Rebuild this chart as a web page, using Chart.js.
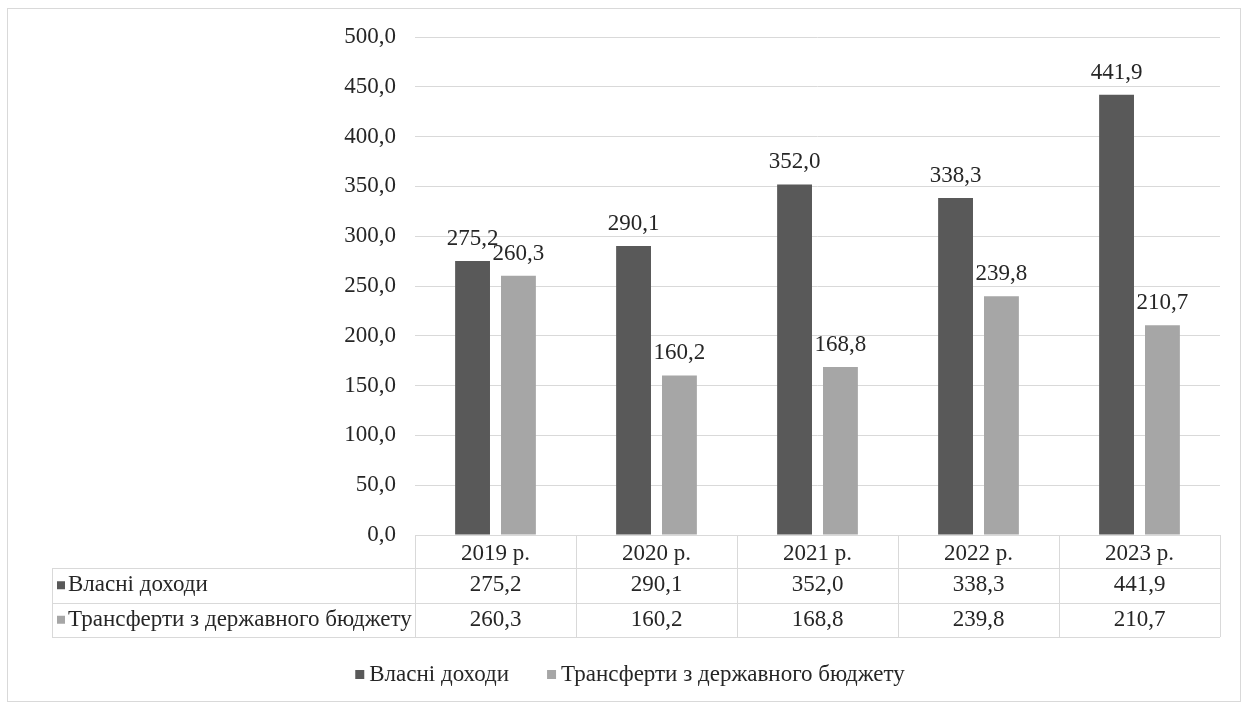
<!DOCTYPE html>
<html>
<head>
<meta charset="utf-8">
<script src="https://cdn.jsdelivr.net/npm/chart.js@4.4.1/dist/chart.umd.min.js"></script>
<style>
  html, body { margin: 0; padding: 0; background: #ffffff; }
  #wrap { position: relative; width: 1248px; height: 704px; }
  #frame { position: absolute; left: 7px; top: 8px; width: 1234px; height: 694px; border: 1px solid #d9d9d9; box-sizing: border-box; pointer-events: none; }
  canvas { position: absolute; left: 0; top: 0; }
</style>
</head>
<body>
<div id="wrap">
  <canvas id="c" width="1248" height="704"></canvas>
  <div id="frame"></div>
</div>
<script>
// Доходи місцевого бюджету, млн грн
const categories = ['2019 р.', '2020 р.', '2021 р.', '2022 р.', '2023 р.'];
const ownRevenue = [275.2, 290.1, 352.0, 338.3, 441.9];
const transfers = [260.3, 160.2, 168.8, 239.8, 210.7];
const seriesNames = ['Власні доходи', 'Трансферти з державного бюджету'];
const seriesColors = ['#595959', '#a6a6a6'];

const FONT = '"Liberation Serif", "Times New Roman", serif';
const FS = 23;
const TEXT = '#262626';
const LINE = '#d9d9d9';

const fmt = v => v.toFixed(1).replace('.', ',');

// Labels above each bar
const valueLabels = {
  id: 'valueLabels',
  afterDatasetsDraw(chart) {
    const ctx = chart.ctx;
    ctx.save();
    ctx.font = FS + 'px ' + FONT;
    ctx.fillStyle = TEXT;
    ctx.textAlign = 'center';
    ctx.textBaseline = 'middle';
    chart.data.datasets.forEach((ds, di) => {
      chart.getDatasetMeta(di).data.forEach((bar, i) => {
        ctx.fillText(fmt(ds.data[i]), bar.x, bar.y - 22);
      });
    });
    ctx.restore();
  }
};

// Data table under the category axis plus the bottom legend
const dataTable = {
  id: 'dataTable',
  afterDraw(chart) {
    const ctx = chart.ctx;
    const x = chart.scales.x;
    const area = chart.chartArea;
    const n = categories.length;
    const step = (area.right - area.left) / n;
    const top = area.bottom;
    const headBottom = x.bottom;
    const rowH = 34.5;
    const tableLeft = 52;
    const rows = [ownRevenue, transfers];
    const tableBottom = headBottom + rowH * rows.length;

    ctx.save();
    ctx.strokeStyle = LINE;
    ctx.lineWidth = 1;
    ctx.beginPath();
    // horizontal lines
    [headBottom, headBottom + rowH, tableBottom].forEach(y => {
      const yy = Math.round(y) + 0.5;
      ctx.moveTo(tableLeft, yy);
      ctx.lineTo(area.right, yy);
    });
    // vertical lines between categories
    for (let i = 0; i <= n; i++) {
      const xx = Math.round(area.left + step * i) + 0.5;
      ctx.moveTo(xx, top);
      ctx.lineTo(xx, tableBottom);
    }
    ctx.moveTo(tableLeft + 0.5, headBottom);
    ctx.lineTo(tableLeft + 0.5, tableBottom);
    ctx.stroke();

    ctx.font = FS + 'px ' + FONT;
    ctx.textBaseline = 'middle';
    rows.forEach((vals, r) => {
      const cy = headBottom + rowH * r + rowH / 2;
      ctx.fillStyle = seriesColors[r];
      ctx.fillRect(tableLeft + 5, cy - 4, 8, 8);
      ctx.fillStyle = TEXT;
      ctx.textAlign = 'left';
      ctx.fillText(seriesNames[r], tableLeft + 16, cy);
      ctx.textAlign = 'center';
      vals.forEach((v, i) => {
        ctx.fillText(fmt(v), x.getPixelForValue(i), cy);
      });
    });

    // legend
    const ly = 675;
    const box = 9, gapBox = 5, gapItem = 38;
    const widths = seriesNames.map(s => ctx.measureText(s).width);
    const total = widths.reduce((a, w) => a + box + gapBox + w, 0) + gapItem;
    let lx = 630 - total / 2;
    ctx.textAlign = 'left';
    seriesNames.forEach((s, i) => {
      ctx.fillStyle = seriesColors[i];
      ctx.fillRect(lx, ly - 5, box, box);
      ctx.fillStyle = TEXT;
      ctx.fillText(s, lx + box + gapBox, ly);
      lx += box + gapBox + widths[i] + gapItem;
    });
    ctx.restore();
  }
};

new Chart(document.getElementById('c'), {
  type: 'bar',
  data: {
    labels: categories,
    datasets: [
      { label: seriesNames[0], data: ownRevenue, backgroundColor: seriesColors[0] },
      { label: seriesNames[1], data: transfers, backgroundColor: seriesColors[1] }
    ]
  },
  options: {
    responsive: false,
    animation: false,
    devicePixelRatio: 1,
    datasets: { bar: { categoryPercentage: 0.57, barPercentage: 0.76 } },
    layout: { padding: { left: 0, right: 28, top: 37, bottom: 136 } },
    plugins: { legend: { display: false }, tooltip: { enabled: false } },
    scales: {
      x: {
        grid: { display: false },
        border: { display: true, color: LINE },
        ticks: { font: { family: FONT, size: FS }, color: TEXT, padding: -3, maxRotation: 0 },
        afterFit(s) { s.height = 33; }
      },
      y: {
        min: 0, max: 500,
        border: { display: false },
        grid: { color: LINE, drawTicks: false },
        ticks: {
          stepSize: 50,
          font: { family: FONT, size: FS },
          color: TEXT,
          padding: 19,
          callback: v => fmt(v)
        },
        afterFit(s) { s.width = 415; }
      }
    }
  },
  plugins: [valueLabels, dataTable]
});
</script>
</body>
</html>
